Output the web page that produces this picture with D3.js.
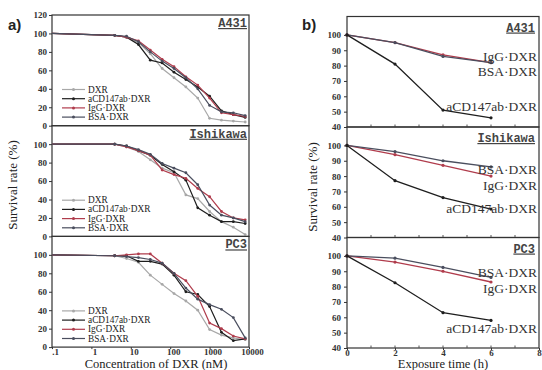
<!DOCTYPE html>
<html><head><meta charset="utf-8">
<script src="https://cdn.jsdelivr.net/npm/d3@7"></script>
<style>body{margin:0;background:#fff}svg{display:block}</style>
</head><body>
<svg id="c" width="542" height="370"></svg>
<script>
// ---------- data ----------
const concentrations = [0.1, 3.9, 7.8, 15.6, 31.25, 62.5, 125, 250, 500, 1000, 2000, 4000, 8000];
const seriesNames = ["DXR", "aCD147ab·DXR", "IgG·DXR", "BSA·DXR"];
const cellLines = ["A431", "Ishikawa", "PC3"];

const a431DXR  = [100, 98, 96, 90, 78, 62, 52, 42, 30, 8, 6, 5, 4];
const a431aCD  = [100, 98, 96, 88, 71, 68, 58, 50, 42, 32, 16, 12, 9];
const a431IgG  = [100, 98, 96, 92, 82, 72, 64, 53, 44, 30, 14, 12, 10];
const a431BSA  = [100, 98, 97, 91, 80, 70, 62, 52, 40, 22, 15, 14, 11];

const ishDXR   = [100, 100, 97, 92, 83, 74, 69, 45, 41, 27, 16, 10, 2];
const ishaCD   = [100, 100, 98, 93, 88, 78, 70, 61, 31, 23, 16, 16, 14];
const ishIgG   = [100, 100, 97, 93, 88, 72, 67, 63, 52, 43, 27, 20, 18];
const ishBSA   = [100, 100, 98, 94, 89, 79, 74, 69, 56, 34, 23, 20, 16];

const pc3DXR   = [100, 99, 96, 92, 78, 68, 58, 50, 40, 19, 13, 10, 8];
const pc3aCD   = [100, 99, 99, 93, 93, 90, 78, 60, 57, 44, 16, 7, 9];
const pc3IgG   = [100, 99, 100, 101, 101, 91, 80, 72, 55, 26, 20, 12, 9];
const pc3BSA   = [100, 99, 98, 97, 95, 91, 80, 64, 52, 46, 41, 32, 10];

const times = [0, 2, 4, 6];
const timeSeries = ["aCD147ab·DXR", "IgG·DXR", "BSA·DXR"];
const a431TimeaCD = [100, 81, 51, 46];
const a431TimeIgG = [100, 95, 87, 82];
const a431TimeBSA = [100, 95, 86, 82];
const ishTimeaCD  = [100, 77, 66, 58.5];
const ishTimeIgG  = [100, 94, 87, 80];
const ishTimeBSA  = [100, 96, 90, 86];
const pc3TimeaCD  = [100, 82.5, 63, 58];
const pc3TimeIgG  = [100, 96, 90, 83];
const pc3TimeBSA  = [100, 98.5, 92.5, 86];

const concTicks = [0.1, 1, 10, 100, 1000, 10000];
const concTickLabels = [".1", "1", "10", "100", "1000", "10000"];
const leftYTicks = [0, 20, 40, 60, 80, 100, 120];
const rightYTicks = [40, 50, 60, 70, 80, 90, 100];
const timeTicks = [0, 2, 4, 6, 8];

// ---------- styling ----------
const colors = {"DXR": "#a8a8a8", "aCD147ab·DXR": "#1e1e1e", "IgG·DXR": "#b03c4c", "BSA·DXR": "#4a4e5e"};
const serif = "'Liberation Serif','DejaVu Serif',serif";
const mono = "'Liberation Mono','DejaVu Sans Mono',monospace";
const svg = d3.select("#c");

const leftData = [
  [a431DXR, a431aCD, a431IgG, a431BSA],
  [ishDXR, ishaCD, ishIgG, ishBSA],
  [pc3DXR, pc3aCD, pc3IgG, pc3BSA]
];
const rightData = [
  [a431TimeaCD, a431TimeIgG, a431TimeBSA],
  [ishTimeaCD, ishTimeIgG, ishTimeBSA],
  [pc3TimeaCD, pc3TimeIgG, pc3TimeBSA]
];

function styleTickText(sel) {
  sel.attr("font-family", serif).attr("font-size", 9).attr("fill", "#333").attr("font-weight", "bold");
}

// ---------- left panel (a) ----------
const xL = d3.scaleLog().domain([0.1, 10000]).range([52, 249]);
const LTop = 15, LH = 110.7;
const legendRows = [74.5, 83.7, 92.9, 102.1];

cellLines.forEach((cl, i) => {
  const top = LTop + i * LH;
  const y = d3.scaleLinear().domain([0, 120]).range([top + LH, top]);
  const g = svg.append("g");
  g.append("rect").attr("x", xL.range()[0]).attr("y", top)
    .attr("width", xL.range()[1] - xL.range()[0]).attr("height", LH)
    .attr("fill", "none").attr("stroke", "#333").attr("stroke-width", 1.2);
  const ticks = i === 0 ? leftYTicks : leftYTicks.filter(t => t < 120);
  const ax = d3.axisLeft(y).tickValues(ticks).tickSize(3).tickPadding(2).tickFormat(d3.format("d"));
  const ga = g.append("g").attr("transform", `translate(${xL.range()[0]},0)`).call(ax);
  ga.select(".domain").remove();
  ga.selectAll("line").attr("stroke", "#333");
  styleTickText(ga.selectAll("text"));
  g.append("text").attr("x", 247).attr("y", top + 12).attr("text-anchor", "end")
    .attr("font-family", mono).attr("font-weight", "bold").attr("font-size", 12)
    .attr("text-decoration", "underline").attr("fill", "#444").text(cl);
  const line = d3.line().x((d, k) => xL(concentrations[k])).y(d => y(d));
  leftData[i].forEach((vals, s) => {
    const c = colors[seriesNames[s]];
    g.append("path").datum(vals).attr("d", line).attr("fill", "none")
      .attr("stroke", c).attr("stroke-width", 1.2);
    g.selectAll(null).data(vals.slice(1)).enter().append("circle")
      .attr("cx", (d, k) => xL(concentrations[k + 1])).attr("cy", d => y(d))
      .attr("r", 1.4).attr("fill", c);
  });
  seriesNames.forEach((nm, s) => {
    const yy = top + legendRows[s];
    g.append("line").attr("x1", 62).attr("x2", 85).attr("y1", yy).attr("y2", yy)
      .attr("stroke", colors[nm]).attr("stroke-width", 1.2);
    g.append("circle").attr("cx", 73.5).attr("cy", yy).attr("r", 1.5).attr("fill", colors[nm]);
    g.append("text").attr("x", 88).attr("y", yy + 3).attr("font-family", serif)
      .attr("font-size", 9.3).attr("fill", "#222").text(nm);
  });
  if (i === 2) {
    const xa = d3.axisBottom(xL).tickValues(concTicks).tickSize(2).tickPadding(1)
      .tickFormat((d, k) => concTickLabels[k]);
    const gx = g.append("g").attr("transform", `translate(0,${top + LH})`).call(xa);
    gx.select(".domain").remove();
    gx.selectAll("line").attr("stroke", "#333");
    styleTickText(gx.selectAll("text"));
    gx.selectAll("text").attr("dx", 3).attr("dy", "0.6em");
  }
});
svg.append("text").attr("x", 156).attr("y", 368).attr("text-anchor", "middle")
  .attr("font-family", serif).attr("font-size", 12.5).attr("fill", "#222").text("Concentration of DXR (nM)");
svg.append("text").attr("transform", "translate(17,185) rotate(-90)").attr("text-anchor", "middle")
  .attr("font-family", serif).attr("font-size", 13).attr("fill", "#222").text("Survival rate (%)");
svg.append("text").attr("x", 8).attr("y", 30).attr("font-family", "'Liberation Sans',Arial,sans-serif")
  .attr("font-weight", "bold").attr("font-size", 15).attr("fill", "#222").text("a)");

// ---------- right panel (b) ----------
const xR = d3.scaleLinear().domain([0, 8]).range([347, 539]);
const RTop = 16.5, RH = 110.5;
const labelOffsets = [
  {"IgG·DXR": 44.5, "BSA·DXR": 59.5, "aCD147ab·DXR": 94.5},
  {"BSA·DXR": 47, "IgG·DXR": 63, "aCD147ab·DXR": 86},
  {"BSA·DXR": 39.5, "IgG·DXR": 55.5, "aCD147ab·DXR": 95.5}
];
cellLines.forEach((cl, i) => {
  const top = RTop + i * RH;
  const y = d3.scaleLinear().domain([40, 112]).range([top + RH, top]);
  const g = svg.append("g");
  g.append("rect").attr("x", xR.range()[0]).attr("y", top)
    .attr("width", xR.range()[1] - xR.range()[0]).attr("height", RH)
    .attr("fill", "none").attr("stroke", "#333").attr("stroke-width", 1.2);
  const ax = d3.axisLeft(y).tickValues(rightYTicks).tickSize(3).tickPadding(3).tickFormat(d3.format("d"));
  const ga = g.append("g").attr("transform", `translate(${xR.range()[0]},0)`).call(ax);
  ga.select(".domain").remove();
  ga.selectAll("line").attr("stroke", "#333");
  styleTickText(ga.selectAll("text"));
  g.selectAll(null).data(d3.range(1, 8)).enter().append("line")
    .attr("x1", d => xR(d)).attr("x2", d => xR(d)).attr("y1", top + RH).attr("y2", top + RH - 2.5)
    .attr("stroke", "#555").attr("stroke-width", 1);
  g.append("text").attr("x", 535).attr("y", top + 15).attr("text-anchor", "end")
    .attr("font-family", mono).attr("font-weight", "bold").attr("font-size", 12)
    .attr("text-decoration", "underline").attr("fill", "#444").text(cl);
  const line = d3.line().x((d, k) => xR(times[k])).y(d => y(d));
  [1, 2, 0].forEach(s => {
    const nm = timeSeries[s];
    const vals = rightData[i][s];
    const c = colors[nm];
    g.append("path").datum(vals).attr("d", line).attr("fill", "none")
      .attr("stroke", c).attr("stroke-width", 1.3);
    g.selectAll(null).data(vals).enter().append("circle")
      .attr("cx", (d, k) => xR(times[k])).attr("cy", d => y(d)).attr("r", 1.6).attr("fill", c);
  });
  timeSeries.forEach(nm => {
    g.append("text").attr("x", 537).attr("y", top + labelOffsets[i][nm]).attr("text-anchor", "end")
      .attr("font-family", serif).attr("font-size", 13.5).attr("fill", "#333").text(nm);
  });
  if (i === 2) {
    const xa = d3.axisBottom(xR).tickValues(timeTicks).tickSize(2).tickPadding(1).tickFormat(d3.format("d"));
    const gx = g.append("g").attr("transform", `translate(0,${top + RH})`).call(xa);
    gx.select(".domain").remove();
    gx.selectAll("line").attr("stroke", "#333");
    styleTickText(gx.selectAll("text"));
    gx.selectAll("text").attr("dy", "0.6em");
  }
});
svg.append("text").attr("x", 443).attr("y", 368).attr("text-anchor", "middle")
  .attr("font-family", serif).attr("font-size", 12.5).attr("fill", "#222").text("Exposure time (h)");
svg.append("text").attr("transform", "translate(317,187) rotate(-90)").attr("text-anchor", "middle")
  .attr("font-family", serif).attr("font-size", 13).attr("fill", "#222").text("Survival rate (%)");
svg.append("text").attr("x", 302).attr("y", 30).attr("font-family", "'Liberation Sans',Arial,sans-serif")
  .attr("font-weight", "bold").attr("font-size", 15).attr("fill", "#222").text("b)");
</script>
</body></html>
